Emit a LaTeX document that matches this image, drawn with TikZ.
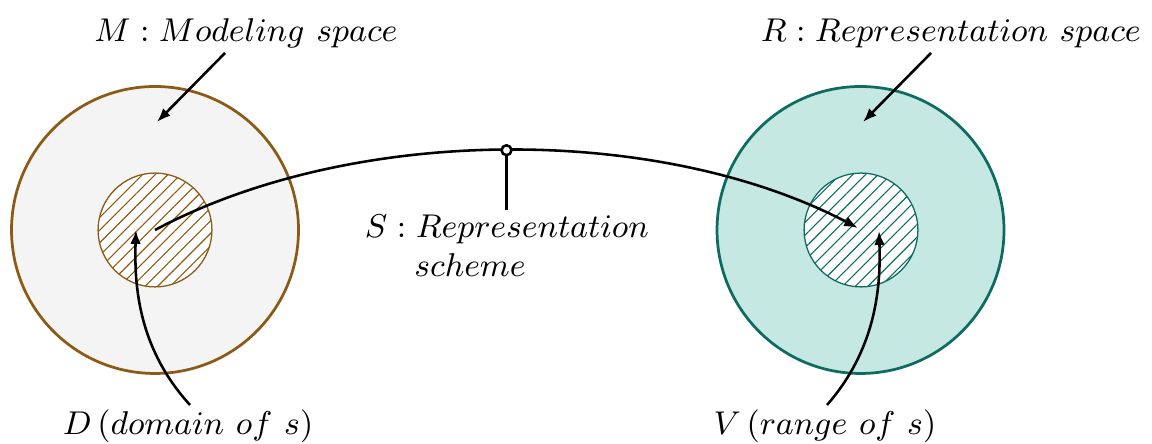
\documentclass[tikz,border=0pt]{standalone}
\usetikzlibrary{arrows.meta,patterns.meta}
\definecolor{brownc}{HTML}{8B5A14}
\definecolor{tealc}{HTML}{0E6B62}
\definecolor{greyfill}{HTML}{F4F4F4}
\definecolor{tealfill}{HTML}{C6E8E2}
\begin{document}
\begin{tikzpicture}[x=0.2732pt,y=-0.2732pt,
  outer/.style={circle,inner sep=0pt,minimum size=78.4pt,line width=0.75pt},
  inner/.style={circle,inner sep=0pt,minimum size=31.1pt,line width=0.35pt},
  hatch/.style={postaction={pattern={Lines[angle=45,distance=2.45pt,line width=0.3pt]},pattern color=#1}},
  lbl/.style={inner sep=0pt,font=\fontsize{9.4}{10.7}\selectfont},
  arr/.style={line width=0.7pt,-{Latex[length=3.8pt,width=2.9pt]}},
  ln/.style={line width=0.7pt}]
\useasboundingbox (0,0) rectangle (1152,444);
% circles
\node[outer,draw=brownc,fill=greyfill] (M) at (155,230) {};
\node[inner,draw=brownc,fill=white,hatch=brownc] (D) at (155,230) {};
\node[outer,draw=tealc,fill=tealfill] (R) at (860.5,230) {};
\node[inner,draw=tealc,fill=white,hatch=tealc] (V) at (861,230) {};
% labels
\node[lbl,anchor=base] (Ml) at (246,42) {$M: Modeling\ space$};
\node[lbl,anchor=base] (Rl) at (951,42) {$R: Representation\ space$};
\node[lbl,anchor=base] (Dl) at (188,435) {$D\,(domain\ of\ s)$};
\node[lbl,anchor=base] (Vl) at (825,435) {$V\,(range\ of\ s)$};
\node[lbl,anchor=north,align=left] (Sl) at (507,214) {$S: Representation$\\\hspace*{13.5pt}$scheme$};
% arrows to spaces
\coordinate (ms) at (225,53);
\coordinate (me) at (157,122);
\coordinate (rs) at (931,53);
\coordinate (re) at (863,122);
\draw[arr] (ms) -- (me);
\draw[arr] (rs) -- (re);
% representation scheme arc
\coordinate (ss) at (155,230);
\coordinate (se) at (858,228);
\draw[arr] (ss) .. controls (354,124) and (659,124) .. node[pos=0.5,circle,draw,fill=white,line width=0.7pt,inner sep=0pt,minimum size=2.7pt] (Sc) {} (se);
\draw[ln] (Sc.south) -- (Sc.south |- 0,210);
% domain and range arrows
\coordinate (ds) at (190,405);
\coordinate (de) at (136,230);
\coordinate (vs) at (827,405);
\coordinate (ve) at (879,231);
\draw[arr] (ds) .. controls (140,350) and (134,290) .. (de);
\draw[arr] (vs) .. controls (875,350) and (881,290) .. (ve);
\end{tikzpicture}
\end{document}
